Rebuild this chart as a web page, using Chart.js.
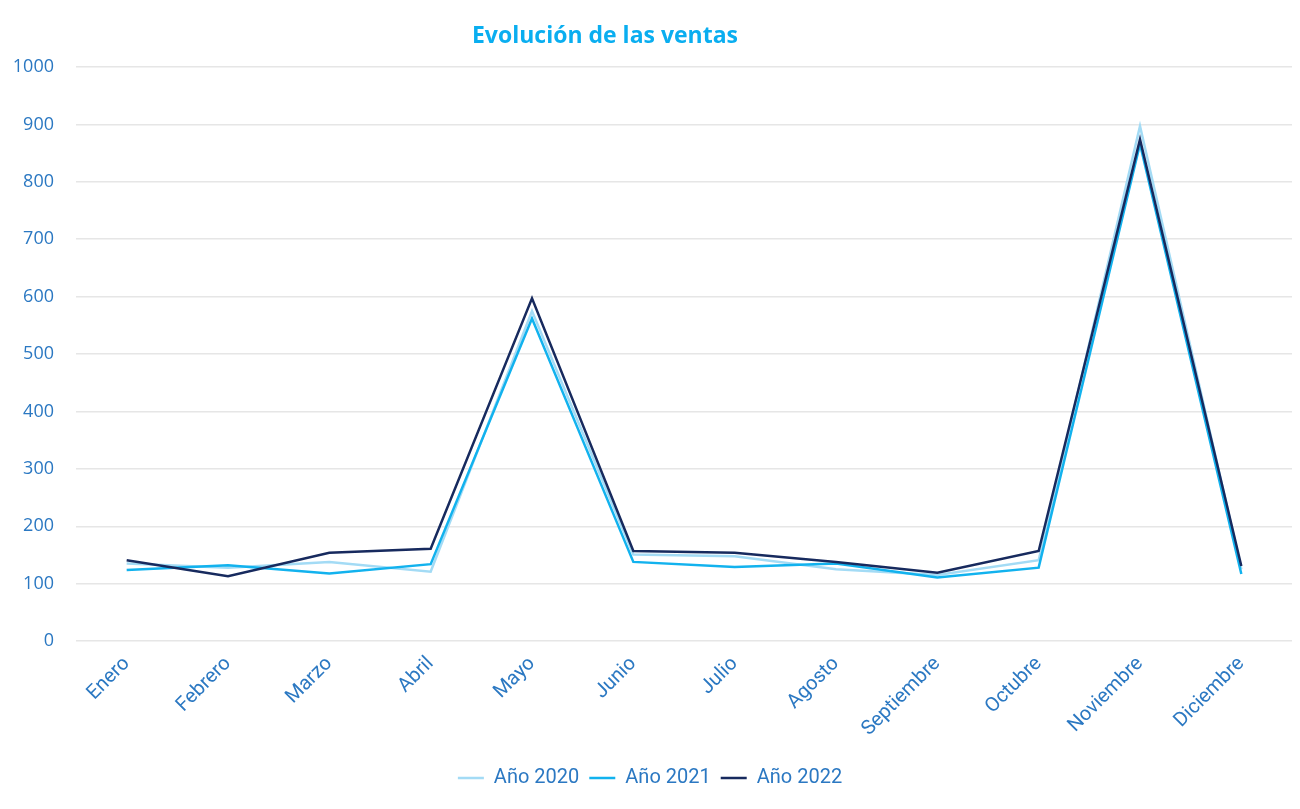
<!DOCTYPE html>
<html>
<head>
<meta charset="utf-8">
<script src="https://cdn.jsdelivr.net/npm/chart.js@4.4.1/dist/chart.umd.min.js"></script>
<style>
    html, body { margin: 0; padding: 0; background: #fff; }
    #wrap { width: 1300px; height: 809px; position: relative; }
</style>
</head>
<body>
<div id="wrap"><canvas id="salesChart"></canvas></div>
<script>
// Data
const months = ['Enero', 'Febrero', 'Marzo', 'Abril', 'Mayo', 'Junio', 'Julio',
    'Agosto', 'Septiembre', 'Octubre', 'Noviembre', 'Diciembre'];
const ventas2020 = [135, 128, 138, 121, 575, 151, 148, 125, 115, 141, 897, 125];
const ventas2021 = [124, 132, 118, 134, 562, 138, 129, 135, 111, 128, 866, 117];
const ventas2022 = [141, 113, 154, 161, 597, 157, 154, 138, 119, 157, 874, 131];
const yTicks = [0, 100, 200, 300, 400, 500, 600, 700, 800, 900, 1000];

const titleText = 'Evolución de las ventas';
const textBlue = '#2b78c2';

// Title sits left of the plot centre in the reference, so draw it by hand
const titlePlugin = {
    id: 'offsetTitle',
    afterDraw(chart) {
        const ctx = chart.ctx;
        ctx.save();
        ctx.font = 'bold 23px "Open Sans"';
        ctx.fillStyle = '#0aaef0';
        ctx.textAlign = 'center';
        ctx.textBaseline = 'middle';
        ctx.fillText(titleText, 605, 36);
        ctx.restore();
    }
};

const ctx = document.getElementById('salesChart').getContext('2d');
new Chart(ctx, {
    type: 'line',
    data: {
        labels: months,
        datasets: [
            {
                label: 'Año 2020',
                data: ventas2020,
                borderColor: '#a3dbf5',
                backgroundColor: '#a3dbf5',
                borderWidth: 2.5,
                pointRadius: 0,
                tension: 0,
                order: 2
            },
            {
                label: 'Año 2021',
                data: ventas2021,
                borderColor: '#12b2ee',
                backgroundColor: '#12b2ee',
                borderWidth: 2.5,
                pointRadius: 0,
                tension: 0,
                order: 1
            },
            {
                label: 'Año 2022',
                data: ventas2022,
                borderColor: '#172a5e',
                backgroundColor: '#172a5e',
                borderWidth: 2.5,
                pointRadius: 0,
                tension: 0,
                order: 0
            }
        ]
    },
    options: {
        responsive: true,
        maintainAspectRatio: false,
        animation: false,
        layout: {
            padding: { top: 67, left: 8, right: 8, bottom: 11 }
        },
        plugins: {
            title: { display: false },
            tooltip: { enabled: false },
            legend: {
                position: 'bottom',
                labels: {
                    usePointStyle: true,
                    pointStyle: 'line',
                    pointStyleWidth: 26,
                    boxHeight: 3,
                    color: textBlue,
                    padding: 10,
                    font: { family: 'Roboto', size: 20 },
                    sort: (a, b) => a.datasetIndex - b.datasetIndex
                }
            }
        },
        scales: {
            x: {
                offset: true,
                grid: { display: false },
                border: { display: false },
                ticks: {
                    color: textBlue,
                    maxRotation: 45,
                    minRotation: 45,
                    padding: 3,
                    font: { family: 'Roboto', size: 20 }
                },
                afterFit(axis) {
                    axis.height += 14;
                }
            },
            y: {
                min: 0,
                max: 1000,
                afterBuildTicks(axis) {
                    axis.ticks = yTicks.map(v => ({ value: v }));
                },
                afterFit(axis) {
                    axis.width = 68;
                },
                grid: { color: '#e6e6e6', lineWidth: 1.5, drawTicks: false },
                border: { display: false },
                ticks: {
                    color: textBlue,
                    padding: 22,
                    font: { family: 'Open Sans', size: 18 },
                    callback: value => String(value)
                }
            }
        }
    },
    plugins: [titlePlugin]
});
</script>
</body>
</html>
